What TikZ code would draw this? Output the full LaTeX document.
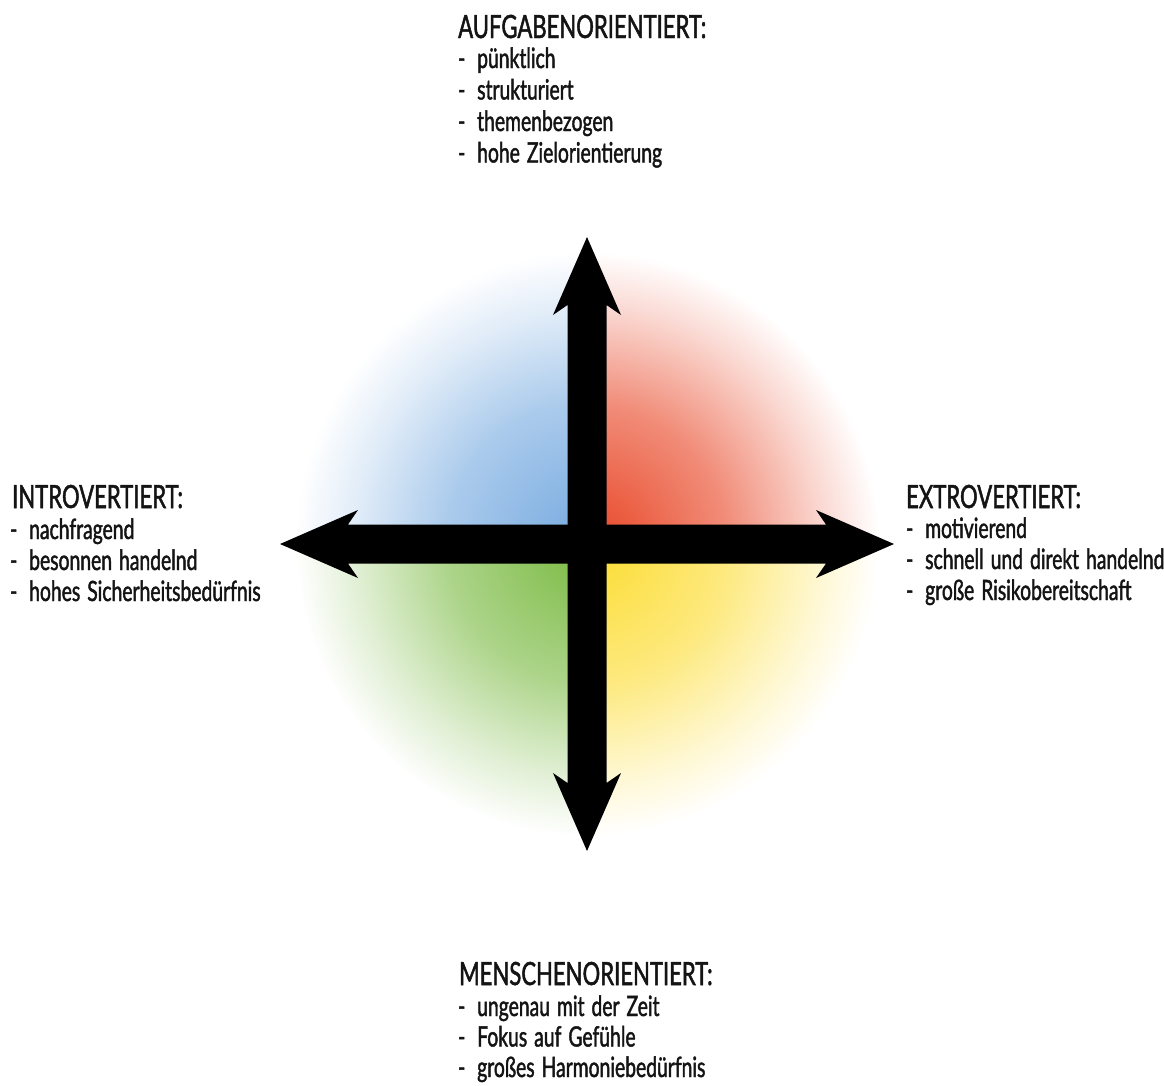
\documentclass[tikz,border=0pt]{standalone}
\usepackage{fontspec}
\setmainfont{Lato}[FakeStretch=0.69,FakeBold=1.5]
\usetikzlibrary{calc}
\definecolor{qblue}{RGB}{118,170,224}
\definecolor{qred}{RGB}{232,70,38}
\definecolor{qgreen}{RGB}{122,186,66}
\definecolor{qyellow}{RGB}{252,220,48}
\pgfdeclareradialshading{qshblue}{\pgfpoint{0bp}{0bp}}{color(0bp)=(qblue); color(12bp)=(qblue!62!white); color(20bp)=(qblue!22!white); color(25bp)=(white); color(50bp)=(white)}
\pgfdeclareradialshading{qshred}{\pgfpoint{0bp}{0bp}}{color(0bp)=(qred); color(12bp)=(qred!62!white); color(20bp)=(qred!22!white); color(25bp)=(white); color(50bp)=(white)}
\pgfdeclareradialshading{qshgreen}{\pgfpoint{0bp}{0bp}}{color(0bp)=(qgreen); color(12bp)=(qgreen!62!white); color(20bp)=(qgreen!22!white); color(25bp)=(white); color(50bp)=(white)}
\pgfdeclareradialshading{qshyellow}{\pgfpoint{0bp}{0bp}}{color(0bp)=(qyellow); color(12bp)=(qyellow!62!white); color(20bp)=(qyellow!22!white); color(25bp)=(white); color(50bp)=(white)}
\newcommand{\dsh}{\makebox[19pt][l]{-}}
\newcommand{\itmfont}{\fontsize{28}{28}\selectfont\spaceskip=7pt plus 1pt minus 1pt\relax}
\tikzset{
  ttl/.style={anchor=base west, inner sep=0pt, font=\fontsize{32}{32}\selectfont, text=black!92},
  itm/.style={anchor=base west, inner sep=0pt, font=\itmfont, text=black!92},
  arrowfill/.style={fill=black},
}
\begin{document}
\begin{tikzpicture}[x=1pt,y=-1pt]
\useasboundingbox (0,0) rectangle (1164,1085);
\fill[white] (0,0) rectangle (1164,1085);
\coordinate (c) at (587,544);
% colour quadrants
\begin{scope}\clip (c) rectangle ++(-300,-300);
  \shade[shading=qshblue] (c) circle[radius=292pt];\end{scope}
\begin{scope}\clip (c) rectangle ++(300,-300);
  \shade[shading=qshred] (c) circle[radius=292pt];\end{scope}
\begin{scope}\clip (c) rectangle ++(-300,300);
  \shade[shading=qshgreen] (c) circle[radius=292pt];\end{scope}
\begin{scope}\clip (c) rectangle ++(300,300);
  \shade[shading=qshyellow] (c) circle[radius=292pt];\end{scope}
% arrows
\begin{scope}[shift={(c)}]
\fill[arrowfill] (0,-307) -- (34,-229) -- (19.5,-239) -- (19.5,239) -- (34,229) -- (0,307)
  -- (-34,229) -- (-19.5,239) -- (-19.5,-239) -- (-34,-229) -- cycle;
\fill[arrowfill] (-307,0) -- (-229,-34) -- (-239,-19.5) -- (239,-19.5) -- (229,-34) -- (307,0)
  -- (229,34) -- (239,19.5) -- (-239,19.5) -- (-229,34) -- cycle;
\end{scope}
% top
\node[ttl] (t0) at (458,38) {AUFGABENORIENTIERT:};
\node[itm] (t1) at (458,68) {\dsh pünktlich};
\node[itm] (t2) at (458,99.5) {\dsh strukturiert};
\node[itm] (t3) at (458,131) {\dsh themenbezogen};
\node[itm] (t4) at (458,162.5) {\dsh hohe Zielorientierung};
% left
\node[ttl] (l0) at (12,508) {INTROVERTIERT:};
\node[itm] (l1) at (10,539) {\dsh nachfragend};
\node[itm] (l2) at (10,570) {\dsh besonnen handelnd};
\node[itm] (l3) at (10,601) {\dsh hohes Sicherheitsbedürfnis};
% right
\node[ttl] (r0) at (906,508) {EXTROVERTIERT:};
\node[itm] (r1) at (906,538) {\dsh motivierend};
\node[itm] (r2) at (906,569) {\dsh schnell und direkt handelnd};
\node[itm] (r3) at (906,600) {\dsh große Risikobereitschaft};
% bottom
\node[ttl] (b0) at (459,985) {MENSCHENORIENTIERT:};
\node[itm] (b1) at (458,1016) {\dsh ungenau mit der Zeit};
\node[itm] (b2) at (458,1046.5) {\dsh Fokus auf Gefühle};
\node[itm] (b3) at (458,1077) {\dsh großes Harmoniebedürfnis};
\end{tikzpicture}
\end{document}
